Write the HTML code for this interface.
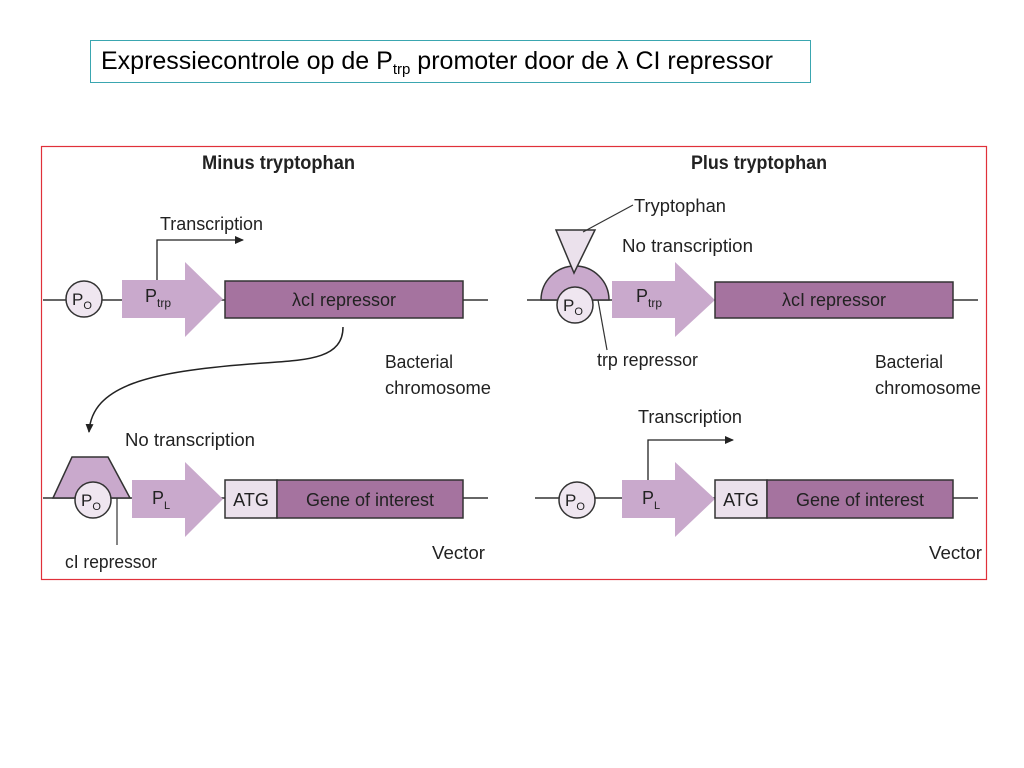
<!DOCTYPE html>
<html><head><meta charset="utf-8"><style>
html,body{margin:0;padding:0;background:#fff;width:1024px;height:768px;overflow:hidden}
svg{display:block}
text{font-family:"Liberation Sans",sans-serif;fill:#222}
</style></head><body>
<svg width="1024" height="768" viewBox="0 0 1024 768" xmlns="http://www.w3.org/2000/svg">
<defs><marker id="ah" markerWidth="10" markerHeight="10" refX="8" refY="5" orient="auto" markerUnits="userSpaceOnUse"><path d="M0,1 L9,5 L0,9 Z" fill="#222"/></marker></defs>
<rect x="90.5" y="40.5" width="720" height="42" fill="#fff" stroke="#3aa6b0" stroke-width="1"/>
<text x="101" y="69" font-size="25" style="fill:#000">Expressiecontrole op de P<tspan font-size="15" dy="5">trp</tspan><tspan dy="-5"> promoter door de λ CI repressor</tspan></text>
<rect x="41.5" y="146.5" width="945" height="433" fill="#fff" stroke="#e0303a" stroke-width="1.2"/>

<g stroke="#333" stroke-width="1.5" fill="none">
<line x1="43" y1="300" x2="488" y2="300"/>
<line x1="43" y1="498" x2="488" y2="498"/>
<line x1="527" y1="300" x2="978" y2="300"/>
<line x1="535" y1="498" x2="978" y2="498"/>
</g>

<!-- LEFT TOP -->
<circle cx="84" cy="299" r="18" fill="#efe6f0" stroke="#333" stroke-width="1.5"/>
<text x="72" y="305" font-size="17">P<tspan font-size="11" dy="4">O</tspan></text>
<path d="M122,280 H185 V262 L223,299 L185,337 V318 H122 Z" fill="#c9a9cc"/>
<text x="145" y="302" font-size="18">P<tspan font-size="12" dy="5">trp</tspan></text>
<rect x="225" y="281" width="238" height="37" fill="#a5739f" stroke="#333" stroke-width="1.5"/>
<text x="344" y="306" font-size="18" text-anchor="middle">λcI repressor</text>
<path d="M157,280 V240 H243" stroke="#222" stroke-width="1.3" fill="none" marker-end="url(#ah)"/>
<text x="160" y="230" font-size="18" textLength="103" lengthAdjust="spacingAndGlyphs">Transcription</text>
<text x="202" y="169" font-size="19" font-weight="bold" textLength="153" lengthAdjust="spacingAndGlyphs">Minus tryptophan</text>
<path d="M343,327 C343,362 300,360 250,364 C150,372 92,385 89,432" stroke="#222" stroke-width="1.5" fill="none" marker-end="url(#ah)"/>
<text x="385" y="368" font-size="18" textLength="68" lengthAdjust="spacingAndGlyphs">Bacterial</text>
<text x="385" y="394" font-size="18" textLength="106" lengthAdjust="spacingAndGlyphs">chromosome</text>

<!-- LEFT BOTTOM -->
<path d="M53,498 L72,457 H108 L130,498 Z" fill="#c9a9cc" stroke="#333" stroke-width="1.5"/>
<circle cx="93" cy="500" r="18" fill="#efe6f0" stroke="#333" stroke-width="1.5"/>
<text x="81" y="506" font-size="17">P<tspan font-size="11" dy="4">O</tspan></text>
<line x1="117" y1="498" x2="117" y2="545" stroke="#333" stroke-width="1.2"/>
<path d="M132,480 H185 V462 L223,499 L185,537 V518 H132 Z" fill="#c9a9cc"/>
<text x="152" y="504" font-size="18">P<tspan font-size="11" dy="5">L</tspan></text>
<rect x="225" y="480" width="52" height="38" fill="#ebe1ec" stroke="#333" stroke-width="1.5"/>
<rect x="277" y="480" width="186" height="38" fill="#a5739f" stroke="#333" stroke-width="1.5"/>
<text x="251" y="506" font-size="18" text-anchor="middle">ATG</text>
<text x="370" y="506" font-size="18" text-anchor="middle" textLength="128" lengthAdjust="spacingAndGlyphs">Gene of interest</text>
<text x="125" y="446" font-size="18" textLength="130" lengthAdjust="spacingAndGlyphs">No transcription</text>
<text x="65" y="568" font-size="18" textLength="92" lengthAdjust="spacingAndGlyphs">cI repressor</text>
<text x="432" y="559" font-size="18" textLength="53" lengthAdjust="spacingAndGlyphs">Vector</text>

<!-- RIGHT TOP -->
<text x="691" y="169" font-size="19" font-weight="bold" textLength="136" lengthAdjust="spacingAndGlyphs">Plus tryptophan</text>
<path d="M541,300 A34,34 0 0 1 609,300 Z" fill="#c9a9cc" stroke="#333" stroke-width="1.5"/>
<circle cx="575" cy="305" r="18" fill="#efe6f0" stroke="#333" stroke-width="1.5"/>
<text x="563" y="311" font-size="17">P<tspan font-size="11" dy="4">O</tspan></text>
<path d="M556,230 H595 L574,273 Z" fill="#ebe1ec" stroke="#333" stroke-width="1.5"/>
<line x1="583" y1="232" x2="633" y2="205" stroke="#333" stroke-width="1.2"/>
<text x="634" y="212" font-size="18" textLength="92" lengthAdjust="spacingAndGlyphs">Tryptophan</text>
<text x="622" y="252" font-size="18" textLength="131" lengthAdjust="spacingAndGlyphs">No transcription</text>
<line x1="598" y1="300" x2="607" y2="350" stroke="#333" stroke-width="1.2"/>
<text x="597" y="366" font-size="18" textLength="101" lengthAdjust="spacingAndGlyphs">trp repressor</text>
<path d="M612,281 H675 V262 L715,300 L675,337 V318 H612 Z" fill="#c9a9cc"/>
<text x="636" y="302" font-size="18">P<tspan font-size="12" dy="5">trp</tspan></text>
<rect x="715" y="282" width="238" height="36" fill="#a5739f" stroke="#333" stroke-width="1.5"/>
<text x="834" y="306" font-size="18" text-anchor="middle">λcI repressor</text>
<text x="875" y="368" font-size="18" textLength="68" lengthAdjust="spacingAndGlyphs">Bacterial</text>
<text x="875" y="394" font-size="18" textLength="106" lengthAdjust="spacingAndGlyphs">chromosome</text>

<!-- RIGHT BOTTOM -->
<circle cx="577" cy="500" r="18" fill="#efe6f0" stroke="#333" stroke-width="1.5"/>
<text x="565" y="506" font-size="17">P<tspan font-size="11" dy="4">O</tspan></text>
<path d="M622,480 H675 V462 L715,499 L675,537 V518 H622 Z" fill="#c9a9cc"/>
<text x="642" y="504" font-size="18">P<tspan font-size="11" dy="5">L</tspan></text>
<path d="M648,480 V440 H733" stroke="#222" stroke-width="1.3" fill="none" marker-end="url(#ah)"/>
<text x="638" y="423" font-size="18" textLength="104" lengthAdjust="spacingAndGlyphs">Transcription</text>
<rect x="715" y="480" width="52" height="38" fill="#ebe1ec" stroke="#333" stroke-width="1.5"/>
<rect x="767" y="480" width="186" height="38" fill="#a5739f" stroke="#333" stroke-width="1.5"/>
<text x="741" y="506" font-size="18" text-anchor="middle">ATG</text>
<text x="860" y="506" font-size="18" text-anchor="middle" textLength="128" lengthAdjust="spacingAndGlyphs">Gene of interest</text>
<text x="929" y="559" font-size="18" textLength="53" lengthAdjust="spacingAndGlyphs">Vector</text>
</svg>
</body></html>
